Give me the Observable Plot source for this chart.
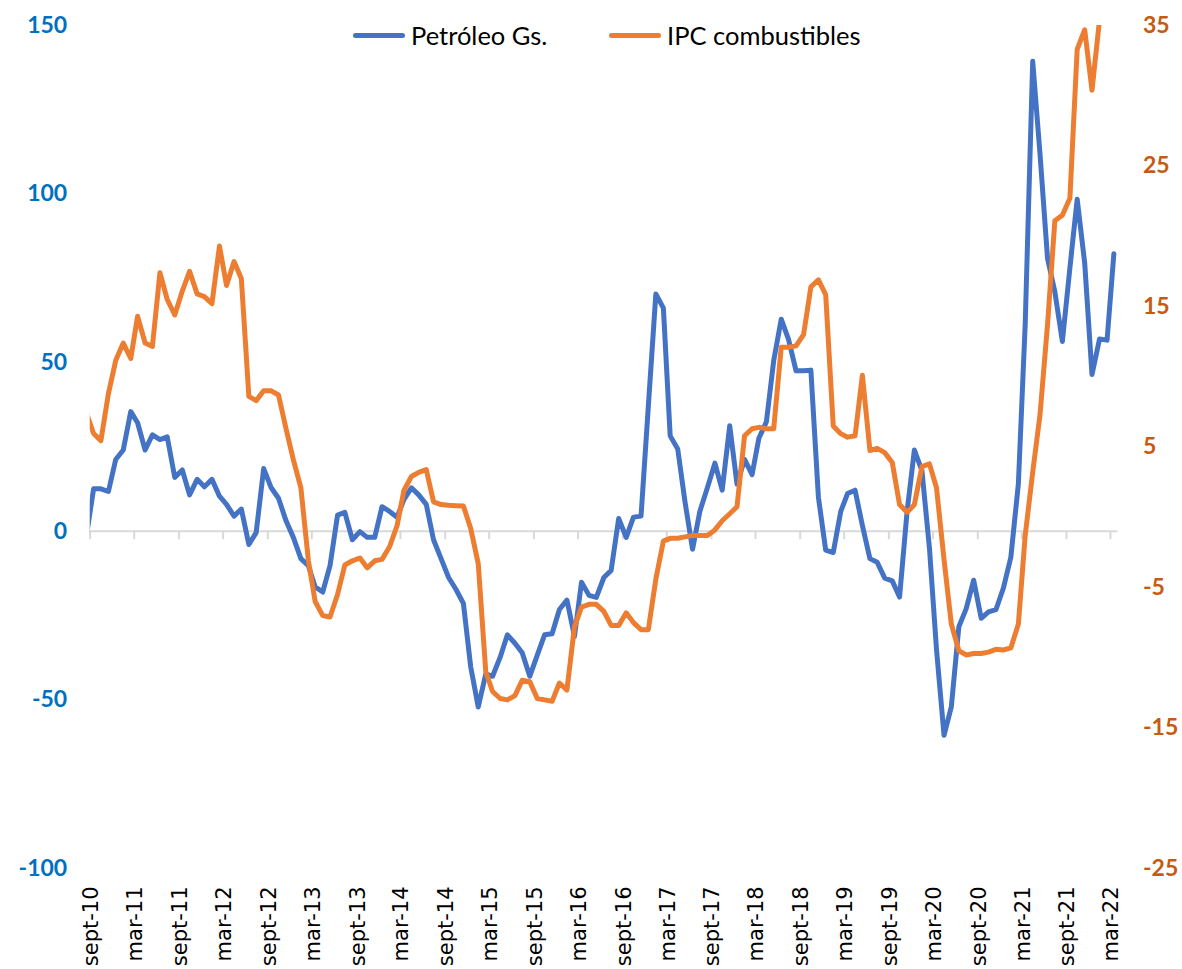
<!DOCTYPE html>
<html><head><meta charset="utf-8">
<script src="https://cdn.jsdelivr.net/npm/d3@7"></script>
<script src="https://cdn.jsdelivr.net/npm/@observablehq/plot@0.6"></script>
<style>
body{margin:0;background:#fff;}
#wrap{position:relative;width:1182px;height:969px;}
.lg{position:absolute;top:20px;height:30px;display:flex;align-items:center;font-family:Lato,"Open Sans",sans-serif;font-size:25.5px;color:#000;white-space:nowrap;}
.lg span.sw{display:inline-block;width:52px;height:5px;border-radius:3px;margin-right:6px;}
</style></head><body>
<div id="wrap"><div id="chart"></div>
<div class="lg" style="left:353px"><span class="sw" style="background:#4472C4"></span>Petróleo Gs.</div>
<div class="lg" style="left:609px"><span class="sw" style="background:#ED7D31"></span>IPC combustibles</div>
</div>
<script>
// monthly series, first value = ago-10 (cut by the left edge), last = mar-22
const firstMonth = [2010, 7];
const petroleo = [
-2,
12.6, 12.6, 11.8, 21.3, 24.1, 35.5, 32.2, 24.1, 28.6, 27.2,
28.0, 16.0, 18.2, 10.8, 15.4, 13.2, 15.4, 10.4, 8.0, 4.5,
6.6, -3.9, -0.4, 18.6, 12.9, 9.8, 3.1, -1.8, -8.1, -10.2,
-16.5, -18.0, -10.2, 4.8, 5.6, -2.5, -0.1, -1.8, -1.8, 7.3,
5.9, 4.2, 9.4, 12.9, 10.8, 8.0, -2.5, -8.1, -13.7, -17.2,
-21.4, -40.2, -52.1, -42.3, -43.0, -37.4, -30.7, -33.2, -36.0, -43.0,
-36.7, -30.7, -30.4, -23.2, -20.4, -31.2, -15.1, -19.0, -19.6, -13.7,
-11.6, 3.8, -1.8, 4.2, 4.5, 37.0, 70.4, 66.2, 28.3, 24.4,
8.7, -5.3, 5.9, 12.9, 20.2, 12.2, 31.3, 14.0, 21.3, 16.8,
27.6, 32.5, 50.6, 62.9, 56.9, 47.6, 47.6, 47.8, 10.1, -5.6,
-6.3, 5.9, 11.2, 12.2, 1.7, -8.1, -9.2, -13.9, -14.7, -19.5,
5.9, 24.1, 18.0, -5.0, -35.0, -60.5, -52.1, -28.3, -23.0, -14.5,
-25.8, -23.9, -23.2, -16.9, -7.7, 14.1, 61.2, 139.4, 111.9, 80.9,
71.1, 56.3, 78.1, 98.5, 79.5, 46.5, 57.0, 56.7, 82.3
];
const ipcCombustibles = [
7.5,
5.96, 5.45, 8.8, 11.15, 12.4, 11.3, 14.3, 12.4, 12.16, 17.4,
15.5, 14.4, 16.1, 17.5, 15.9, 15.7, 15.2, 19.3, 16.5, 18.2,
17.0, 8.6, 8.3, 9.0, 9.0, 8.7, 6.3, 4.1, 2.1, -3.1,
-6.0, -7.0, -7.1, -5.5, -3.4, -3.1, -2.9, -3.6, -3.1, -3.0,
-2.1, -0.6, 1.9, 2.9, 3.2, 3.4, 1.1, 0.9, 0.85, 0.82,
0.8, -0.8, -3.3, -11.0, -12.4, -12.9, -13.0, -12.7, -11.6, -11.7,
-12.9, -13.0, -13.1, -11.8, -12.3, -7.8, -6.4, -6.2, -6.2, -6.7,
-7.7, -7.7, -6.8, -7.5, -8.0, -8.0, -4.4, -1.7, -1.5, -1.5,
-1.4, -1.3, -1.3, -1.3, -0.9, -0.25, 0.25, 0.75, 5.8, 6.3,
6.4, 6.3, 6.3, 12.1, 12.1, 12.2, 13.0, 16.4, 16.9, 15.85,
6.5, 5.95, 5.7, 5.8, 10.1, 4.75, 4.9, 4.6, 3.9, 0.9,
0.35, 0.9, 3.6, 3.8, 2.1, -3.0, -7.6, -9.5, -9.8, -9.7,
-9.7, -9.6, -9.4, -9.45, -9.3, -7.6, -1.3, 3.2, 7.3, 13.7,
21.1, 21.5, 22.7, 33.3, 34.7, 30.4, 35.4, 38.0, 40.0
];
const tickLabels = ["sept-10","mar-11","sept-11","mar-12","sept-12","mar-13","sept-13","mar-14","sept-14","mar-15","sept-15","mar-16","sept-16","mar-17","sept-17","mar-18","sept-18","mar-19","sept-19","mar-20","sept-20","mar-21","sept-21","mar-22"];
const leftTicks = [-100, -50, 0, 50, 100, 150];
const rightTicks = [-25, -15, -5, 5, 15, 25, 35];
const leftDomain = [-100, 150];
const rightDomain = [-25, 35];

const toLeft = d3.scaleLinear(rightDomain, leftDomain);
const data = petroleo.map((v, i) => ({
  date: new Date(Date.UTC(firstMonth[0], firstMonth[1] + i, 15)),
  petroleo: v,
  ipc: ipcCombustibles[i]
}));
const tickDates = tickLabels.map((t, i) => new Date(Date.UTC(2010, 8 + 6 * i, 1)));
const tickData = tickDates.map((d, i) => ({date: d, label: tickLabels[i]}));

const chart = Plot.plot({
  width: 1182, height: 969,
  marginLeft: 89.7, marginRight: 64.5, marginTop: 25, marginBottom: 101,
  style: {background: "#fff"},
  x: {type: "utc", domain: [new Date(Date.UTC(2010, 8, 1)), new Date(Date.UTC(2022, 3, 1))], axis: null},
  y: {domain: leftDomain, axis: null},
  marks: [
    Plot.ruleY([0], {stroke: "#D9D9D9", strokeWidth: 2}),
    Plot.ruleX(tickData, {x: "date", y1: 0, y2: -2.5, stroke: "#D9D9D9", strokeWidth: 2}),
    Plot.axisY({anchor: "left", label: null, ticks: leftTicks, tickSize: 0, tickPadding: 23, tickFormat: d => String(d),
      fontSize: 23, fontWeight: "bold", fontFamily: "Lato", fill: "#0070C0"}),
    Plot.axisY({anchor: "right", label: null, ticks: rightTicks.map(toLeft), tickSize: 0, tickPadding: 25,
      tickFormat: d => String(Math.round(toLeft.invert(d))),
      fontSize: 23, fontWeight: "bold", fontFamily: "Lato", fill: "#C55A11"}),
    Plot.text(tickData, {x: "date", text: "label", frameAnchor: "bottom", rotate: -90, textAnchor: "end",
      dy: 18, dx: 8, fontSize: 21, fontFamily: "DejaVu Sans", fill: "#000"}),
    Plot.line(data, {x: "date", y: "petroleo", stroke: "#4472C4", strokeWidth: 5, clip: true,
      strokeLinejoin: "round", strokeLinecap: "round"}),
    Plot.line(data, {x: "date", y: d => toLeft(d.ipc), stroke: "#ED7D31", strokeWidth: 5, clip: true,
      strokeLinejoin: "round", strokeLinecap: "round"})
  ]
});
document.getElementById("chart").appendChild(chart);
</script>
</body></html>
